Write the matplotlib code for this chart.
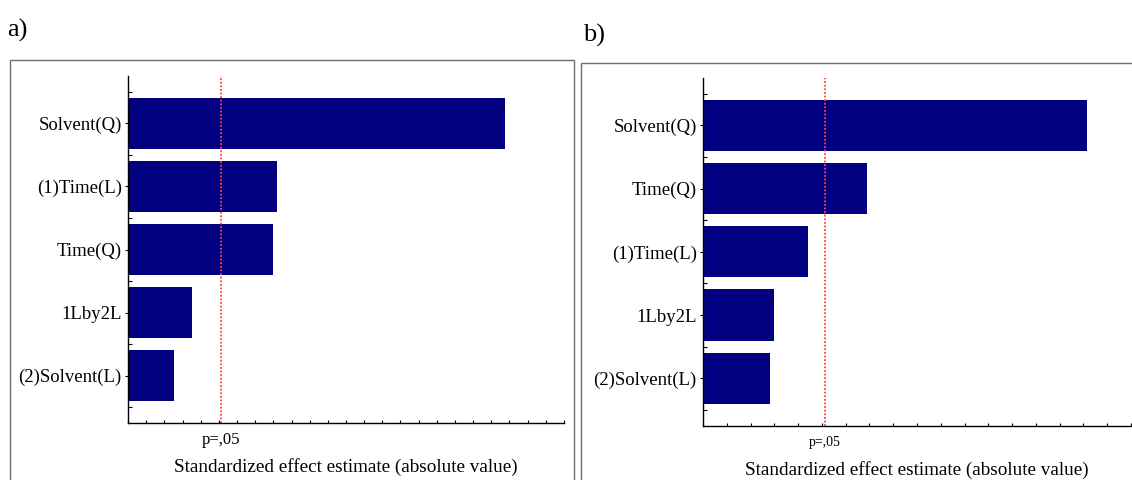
import matplotlib.pyplot as plt
from matplotlib.patches import Rectangle
from matplotlib.ticker import MultipleLocator, FixedLocator

plt.rcParams['font.family'] = ['Liberation Serif', 'DejaVu Serif']

# Pareto charts of standardized effects
labels_a = ['Solvent(Q)', '(1)Time(L)', 'Time(Q)', '1Lby2L', '(2)Solvent(L)']
effects_a = [10.38, 4.10, 3.99, 1.75, 1.26]

labels_b = ['Solvent(Q)', 'Time(Q)', '(1)Time(L)', '1Lby2L', '(2)Solvent(L)']
effects_b = [8.08, 3.45, 2.21, 1.50, 1.41]

p_crit = 2.5706  # t critical value, p = .05
xmax_a = 12
xmax_b = 9

fig = plt.figure(figsize=(11.32, 4.8), dpi=100)

# outer frames around each panel
fig.add_artist(Rectangle((10 / 1132, -0.1), 564 / 1132, (480 - 60) / 480 + 0.1,
                         transform=fig.transFigure, fill=False,
                         edgecolor='#6e6e6e', lw=1.0))
fig.add_artist(Rectangle((581 / 1132, -0.1), 0.6, (480 - 63) / 480 + 0.1,
                         transform=fig.transFigure, fill=False,
                         edgecolor='#6e6e6e', lw=1.0))

fig.text(7 / 1132, 1 - 30 / 480, 'a)', fontsize=19, va='center', ha='left')
fig.text(583 / 1132, 1 - 35 / 480, 'b)', fontsize=19, va='center', ha='left')


def pareto(ax, labels, effects, xmax, p_size):
    pos = range(len(labels))
    ax.barh(pos, effects, height=0.81, color='#000080', edgecolor='none')
    ax.axvline(p_crit, color='#ff4444', ls=(0, (1.0, 1.0)), lw=1.3)
    ax.set_xlim(0, xmax)
    ax.set_ylim(len(labels) - 0.25, -0.75)

    ax.set_yticks(list(pos))
    ax.set_yticklabels(labels, fontsize=13.5)
    ax.yaxis.set_minor_locator(FixedLocator([i - 0.5 for i in range(len(labels) + 1)]))
    ax.tick_params(axis='y', which='major', direction='out', length=2, pad=2.5,
                   width=0.8)
    ax.tick_params(axis='y', which='minor', direction='in', length=3, width=0.8)

    ax.xaxis.set_major_locator(MultipleLocator(1))
    ax.xaxis.set_minor_locator(MultipleLocator(0.5))
    ax.tick_params(axis='x', which='both', direction='in', length=2.5, width=0.8,
                   labelbottom=False)

    for side in ('top', 'right'):
        ax.spines[side].set_visible(False)
    for side in ('left', 'bottom'):
        ax.spines[side].set_linewidth(1.0)

    ax.annotate('p=,05', xy=(p_crit, 0), xycoords=('data', 'axes fraction'),
                xytext=(0, -12), textcoords='offset points',
                ha='center', va='center', fontsize=p_size)
    ax.text(0.5, -44 / 347, 'Standardized effect estimate (absolute value)',
            transform=ax.transAxes, ha='center', va='center', fontsize=13.8)


ax_a = fig.add_axes([128 / 1132, 57 / 480, 436 / 1132, 347 / 480])
pareto(ax_a, labels_a, effects_a, xmax_a, 12)

ax_b = fig.add_axes([703 / 1132, 54.3 / 480, 428 / 1132, 347.7 / 480])
pareto(ax_b, labels_b, effects_b, xmax_b, 10)

fig.savefig('out.png', dpi=100)
